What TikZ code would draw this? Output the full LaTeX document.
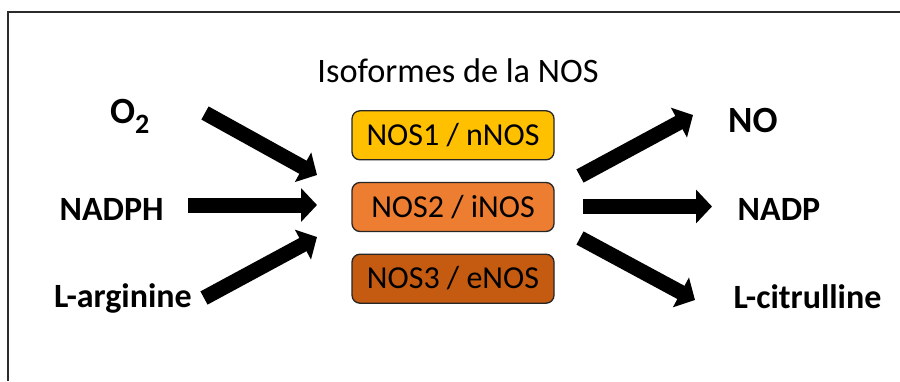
\documentclass[tikz,border=0pt]{standalone}
\usepackage{fontspec}
\setmainfont{Carlito}
\usetikzlibrary{arrows.meta}
\definecolor{nosA}{HTML}{FFC000}
\definecolor{nosB}{HTML}{ED7D31}
\definecolor{nosC}{HTML}{C55A11}
\definecolor{frameC}{HTML}{2B2B2B}
\tikzset{
  nosbox/.style={draw=black!85, line width=1.3pt, rounded corners=8pt,
    minimum width=202pt, minimum height=49pt, inner sep=0pt,
    text height=20.5pt, text depth=0pt,
    font=\fontsize{32}{36}\selectfont},
  lbl/.style={anchor=base, inner sep=0pt, font=\bfseries\fontsize{34}{40}\selectfont},
  biglbl/.style={anchor=base west, inner sep=0pt, font=\bfseries\fontsize{37}{42}\selectfont},
  fatarrow/.style={line width=15pt, -{Triangle[length=16pt,width=33pt]}}
}
\begin{document}
\begin{tikzpicture}[x=1pt,y=-1pt]
\useasboundingbox (0,0) rectangle (900,381);
% frame
\coordinate (fr1) at (8,381);
\coordinate (fr2) at (8,12);
\coordinate (fr3) at (900,12);
\draw[frameC, line width=2pt] (fr1) -- (fr2) -- (fr3);
% title
\node[anchor=base, inner sep=0pt, font=\fontsize{34.3}{38}\selectfont] (title) at (458,82) {Isoformes de la NOS};
% boxes
\node[nosbox, fill=nosA] (nos1) at (453,135.3) {NOS1 / nNOS};
\node[nosbox, fill=nosB] (nos2) at (453,207) {NOS2 / iNOS};
\node[nosbox, fill=nosC] (nos3) at (453,278.7) {NOS3 / eNOS};
% labels
\node[biglbl] (o2) at (110,123) {O\raisebox{-10pt}{\fontsize{28}{28}\selectfont 2}};
\node[lbl] (nadph) at (111.7,220) {NADPH};
\node[lbl] (larg) at (123,307) {L-arginine};
\node[biglbl] (no) at (728,132) {NO};
\node[lbl] (nadp) at (779,220) {NADP};
\node[lbl] (lcit) at (807.5,308) {L-citrulline};
% arrow ends
\coordinate (a1s) at (205,113);  \coordinate (a1e) at (317,175);
\coordinate (a2s) at (188,205);  \coordinate (a2e) at (317,205);
\coordinate (a3s) at (204,298);  \coordinate (a3e) at (317,237);
\coordinate (b1s) at (580,176);  \coordinate (b1e) at (693,115);
\coordinate (b2s) at (583,206.5);\coordinate (b2e) at (712,206.5);
\coordinate (b3s) at (580,238);  \coordinate (b3e) at (695,300);
\draw[fatarrow] (a1s) -- (a1e);
\draw[fatarrow] (a2s) -- (a2e);
\draw[fatarrow] (a3s) -- (a3e);
\draw[fatarrow] (b1s) -- (b1e);
\draw[fatarrow] (b2s) -- (b2e);
\draw[fatarrow] (b3s) -- (b3e);
\end{tikzpicture}
\end{document}
